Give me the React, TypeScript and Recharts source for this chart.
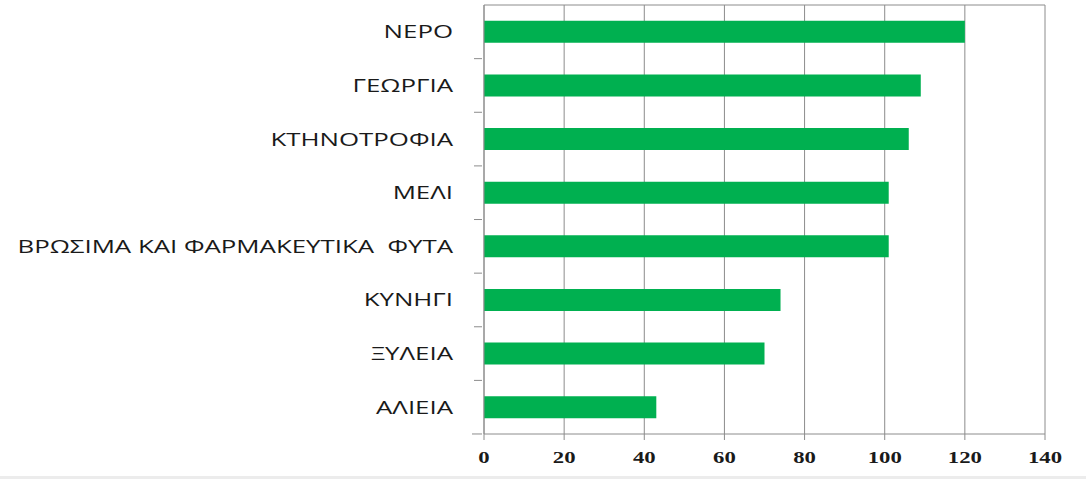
import { Bar, BarChart, CartesianGrid, XAxis, YAxis } from 'recharts';

const categories = [
  'ΝΕΡΟ',
  'ΓΕΩΡΓΙΑ',
  'ΚΤΗΝΟΤΡΟΦΙΑ',
  'ΜΕΛΙ',
  'ΒΡΩΣΙΜΑ ΚΑΙ ΦΑΡΜΑΚΕΥΤΙΚΑ  ΦΥΤΑ',
  'ΚΥΝΗΓΙ',
  'ΞΥΛΕΙΑ',
  'ΑΛΙΕΙΑ',
];
const values = [120, 109, 106, 101, 101, 74, 70, 43];
const xTicks = [0, 20, 40, 60, 80, 100, 120, 140];

const data = categories.map((name, i) => ({ name, value: values[i] }));

const GRID = '#8c8c8c';
const GREEN = '#00b050';
const STRETCH = 1.36; // the original picture is stretched sideways

// category label plus the Excel-style tick mark that sits between categories
function CategoryTick(props: any) {
  const { x, y, payload, index } = props;
  const band = 428.6 / categories.length;
  const axisX = x + 6;
  return (
    <g>
      <text
        transform={`translate(${axisX - 29},${y + 6.5}) scale(${STRETCH},1)`}
        textAnchor="end"
        fill="#1a1a1a"
        fontSize={19}
        fontFamily="'Open Sans', sans-serif"
        style={{ whiteSpace: 'pre' }}
      >
        {payload.value}
      </text>
      {index > 0 && <line x1={axisX - 8} x2={axisX} y1={y - band / 2} y2={y - band / 2} stroke={GRID} />}
      {index === categories.length - 1 && (
        <line x1={axisX - 10} x2={axisX} y1={y + band / 2} y2={y + band / 2} stroke={GRID} />
      )}
    </g>
  );
}

function NumberTick(props: any) {
  const { x, y, payload } = props;
  return (
    <text
      transform={`translate(${x},${y + 21}) scale(1.3,1)`}
      textAnchor="middle"
      fill="#1a1a1a"
      fontSize={17.5}
      fontWeight="bold"
      fontFamily="'Liberation Serif', serif"
    >
      {payload.value}
    </text>
  );
}

export default function App() {
  return (
    <div style={{ position: 'absolute', left: 0, top: 0, width: 1086, height: 479, background: '#fff' }}>
      <BarChart
        width={1086}
        height={479}
        data={data}
        layout="vertical"
        margin={{ top: 5, right: 41, bottom: 0, left: 0 }}
        barCategoryGap="29.5%"
      >
        <CartesianGrid
          stroke={GRID}
          horizontal={true}
          vertical={true}
          horizontalCoordinatesGenerator={({ offset }: any) => [offset.top]}
          verticalCoordinatesGenerator={({ offset }: any) =>
            xTicks.map((t) => offset.left + (t / 140) * offset.width)
          }
        />
        <XAxis
          type="number"
          domain={[0, 140]}
          ticks={xTicks}
          height={45}
          stroke={GRID}
          tickSize={6}
          tick={<NumberTick />}
        />
        <YAxis
          type="category"
          dataKey="name"
          width={484}
          stroke={GRID}
          tickLine={false}
          interval={0}
          tick={<CategoryTick />}
        />
        <Bar dataKey="value" fill={GREEN} isAnimationActive={false} />
      </BarChart>
      <div style={{ position: 'absolute', left: 0, top: 476, width: 1086, height: 3, background: '#ececec' }} />
    </div>
  );
}
